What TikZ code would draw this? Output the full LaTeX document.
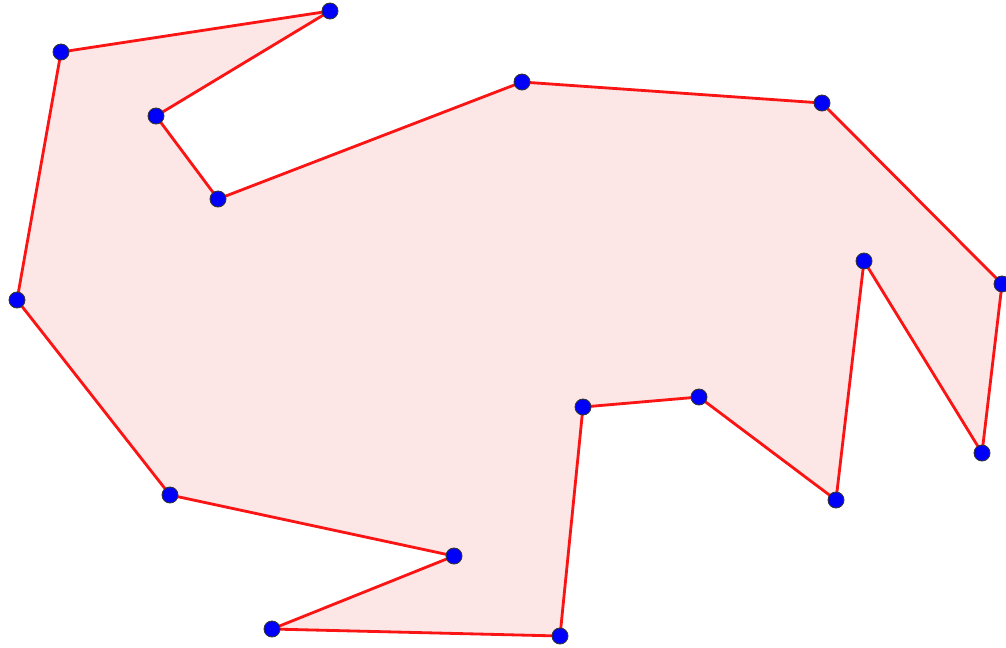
\documentclass[tikz,border=0pt]{standalone}
\usepackage{tikz}
\definecolor{edgec}{RGB}{250,20,20}
\definecolor{areac}{RGB}{252,230,230}
\definecolor{ptc}{RGB}{0,0,250}
\tikzset{pt/.style={circle,draw=black!80,line width=.5pt,fill=ptc,inner sep=0pt,minimum size=3.2mm},
 edge/.style={draw=edgec,line width=1.6pt,line join=round},
 area/.style={fill=areac}}
\begin{document}
\begin{tikzpicture}[x=0.02cm,y=-0.02cm]
\useasboundingbox (0,0) rectangle (1006,647);
% vertices of the polygon
\foreach \n/\x/\y in {a/330/11,b/61/52,c/17/300,d/170/495,e/454/556,f/272/629,
 g/560/636,h/583/407,i/699/397,j/836/500,k/864/261,l/982/453,m/1002/284,
 n/822/103,o/522/82,p/218/199,q/156/116}{\coordinate (\n) at (\x,\y);}
\path[area] (a)--(b)--(c)--(d)--(e)--(f)--(g)--(h)--(i)--(j)--(k)--(l)--(m)--(n)--(o)--(p)--(q)--cycle;
\draw[edge] (a)--(b)--(c)--(d)--(e)--(f)--(g)--(h)--(i)--(j)--(k)--(l)--(m)--(n)--(o)--(p)--(q)--cycle;
\foreach \n in {a,b,c,d,e,f,g,h,i,j,k,l,m,n,o,p,q}{\node[pt] (v\n) at (\n) {};}
\end{tikzpicture}
\end{document}
